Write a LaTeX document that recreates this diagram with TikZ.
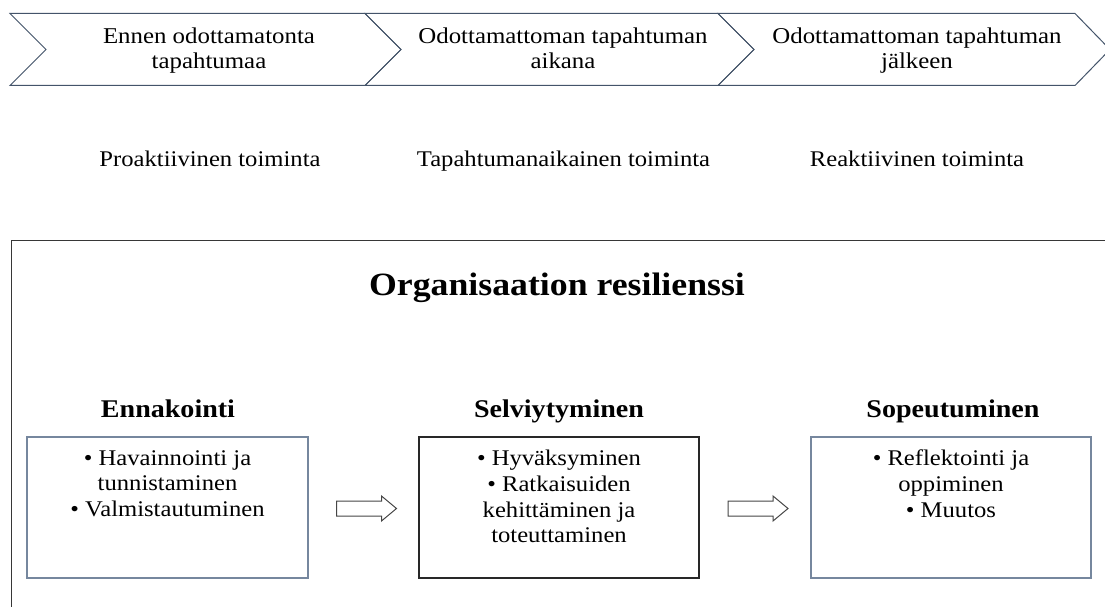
\documentclass[tikz,border=0pt]{standalone}
\usepackage{fontspec}
\setmainfont{Liberation Serif}[FakeStretch=1.1]
\usetikzlibrary{calc}
\definecolor{chevline}{RGB}{68,84,106}
\definecolor{boxline}{RGB}{118,135,158}
\definecolor{darkline}{RGB}{40,40,40}
\definecolor{frameline}{RGB}{55,55,55}
\definecolor{arrowline}{RGB}{70,70,70}
\tikzset{
  chev/.style={draw=chevline,line width=1pt,line join=miter},
  chevtext/.style={align=center,inner sep=0pt,anchor=north,font=\fontsize{22.6}{25.6}\selectfont},
  phase/.style={inner sep=0pt,anchor=base,font=\fontsize{22.4}{26}\selectfont},
  titletext/.style={inner sep=0pt,anchor=base,font=\fontsize{32.5}{40}\selectfont\bfseries},
  headtext/.style={inner sep=0pt,anchor=base,font=\fontsize{25.5}{30}\selectfont\bfseries},
  stagebox/.style={draw=boxline,line width=1.2pt,minimum width=281pt,minimum height=141pt,inner sep=0pt},
  stageboxdark/.style={stagebox,draw=darkline},
  boxtext/.style={align=center,inner sep=0pt,anchor=north,font=\fontsize{22.4}{25.7}\selectfont},
  blockarrow/.pic={\draw[draw=arrowline,line width=1pt,line join=miter,fill=white]
     (-30,-7.5) -- (15,-7.5) -- (15,-12.5) -- (30,0) -- (15,12.5) -- (15,7.5) -- (-30,7.5) -- cycle;}
}
\begin{document}
\begin{tikzpicture}[x=1pt,y=-1pt]
\useasboundingbox (0,0) rectangle (1105,607);
\clip (0,0) rectangle (1105,607);
\fill[white] (0,0) rectangle (1105,607);

% chevrons
\draw[chev] (10,13.5) -- (365,13.5) -- (401,49.5) -- (365,85.5) -- (10,85.5) -- (46,49.5) -- cycle;
\draw[chev] (365,13.5) -- (718,13.5) -- (754,49.5) -- (718,85.5) -- (365,85.5) -- (401,49.5) -- cycle;
\draw[chev] (718,13.5) -- (1075,13.5) -- (1110,49.5) -- (1075,85.5) -- (718,85.5) -- (754,49.5) -- cycle;
\node[chevtext] (c1) at (209,27.4) {Ennen odottamatonta\\tapahtumaa};
\node[chevtext] (c2) at (563,27.4) {Odottamattoman tapahtuman\\aikana};
\node[chevtext] (c3) at (917,27.4) {Odottamattoman tapahtuman\\jälkeen};

% phase labels
\node[phase] (p1) at (210,166.5) {Proaktiivinen toiminta};
\node[phase] (p2) at (563.5,166.5) {Tapahtumanaikainen toiminta};
\node[phase] (p3) at (917,166.5) {Reaktiivinen toiminta};

% big frame
\node[draw=frameline,line width=1.6pt,minimum width=1150pt,minimum height=420pt,anchor=north west,inner sep=0pt] (frame) at (10.5,239.5) {};
\node[titletext] (title) at (557,295) {Organisaation resilienssi};

% stage boxes
\node[stagebox] (b1) at (167.5,507.5) {};
\node[stageboxdark,minimum width=280pt] (b2) at (559,507.5) {};
\node[stagebox,minimum width=280pt] (b3) at (951,507.5) {};

\node[headtext] (h1) at (168,417) {Ennakointi};
\node[headtext] (h2) at (559,417) {Selviytyminen};
\node[headtext] (h3) at (953,417) {Sopeutuminen};

\node[boxtext] (t1) at ($(b1.north)+(0,13.6)$) {• Havainnointi ja\\tunnistaminen\\• Valmistautuminen};
\node[boxtext] (t2) at ($(b2.north)+(0,13.6)$) {• Hyväksyminen\\• Ratkaisuiden\\kehittäminen ja\\toteuttaminen};
\node[boxtext] (t3) at ($(b3.north)+(0,13.6)$) {• Reflektointi ja\\oppiminen\\• Muutos};

% block arrows
\pic at ($(b1.east)!0.5!(b2.west)+(3,1)$) {blockarrow};
\pic at ($(b2.east)!0.5!(b3.west)+(3,1)$) {blockarrow};
\end{tikzpicture}
\end{document}
